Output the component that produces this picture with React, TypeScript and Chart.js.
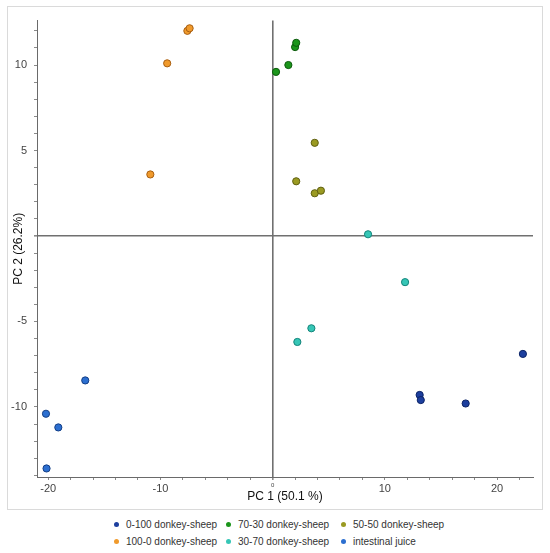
import { useEffect, useRef } from "react";
import { Chart, ScatterController, PointElement, LinearScale } from "chart.js";

Chart.register(ScatterController, PointElement, LinearScale);

// PCA scores (PC 1, PC 2)
const seriesNames = [
  "0-100 donkey-sheep",
  "70-30 donkey-sheep",
  "50-50 donkey-sheep",
  "100-0 donkey-sheep",
  "30-70 donkey-sheep",
  "intestinal juice"
];

const pc1_0_100 = [22.3, 13.1, 13.2, 17.2];
const pc2_0_100 = [-6.9, -9.3, -9.6, -9.8];

const pc1_70_30 = [0.3, 1.4, 2.0, 2.1];
const pc2_70_30 = [9.6, 10.0, 11.05, 11.3];

const pc1_50_50 = [3.75, 2.1, 3.75, 4.3];
const pc2_50_50 = [5.45, 3.2, 2.5, 2.65];

const pc1_100_0 = [-7.6, -7.4, -9.4, -10.9];
const pc2_100_0 = [12.0, 12.15, 10.1, 3.6];

const pc1_30_70 = [8.5, 11.8, 3.45, 2.2];
const pc2_30_70 = [0.1, -2.7, -5.4, -6.2];

const pc1_juice = [-16.7, -20.2, -19.1, -20.15];
const pc2_juice = [-8.45, -10.4, -11.2, -13.6];

const xs = [pc1_0_100, pc1_70_30, pc1_50_50, pc1_100_0, pc1_30_70, pc1_juice];
const ys = [pc2_0_100, pc2_70_30, pc2_50_50, pc2_100_0, pc2_30_70, pc2_juice];

const fills = ["#1d3f9e", "#1b951b", "#9a9a22", "#f09a2c", "#36c6b6", "#2c6fd0"];
const strokes = ["#0c2466", "#0b5a0b", "#5f5f10", "#a85e10", "#14847a", "#143f86"];

const xTitle = "PC 1 (50.1 %)";
const yTitle = "PC 2 (26.2%)";

const FONT = "'Liberation Sans', Arial, sans-serif";

// legend slots: column left edges, row centres
const legendCols = [114, 226, 341];
const legendRows = [524, 541];

export default function App() {
  const canvasRef = useRef<HTMLCanvasElement | null>(null);

  useEffect(() => {
    const canvas = canvasRef.current;
    if (!canvas) return;

    const chart = new Chart(canvas, {
      type: "scatter",
      data: {
        datasets: seriesNames.map((name, i) => ({
          label: name,
          data: xs[i].map((x, j) => ({ x, y: ys[i][j] })),
          backgroundColor: fills[i],
          borderColor: strokes[i],
          borderWidth: 1,
          pointRadius: 3.6
        }))
      },
      options: {
        animation: false,
        responsive: false,
        layout: { padding: { left: 0, right: 9, top: 10, bottom: 0 } },
        plugins: { legend: { display: false }, tooltip: { enabled: false } },
        scales: {
          x: {
            type: "linear",
            min: -21,
            max: 23.2,
            afterFit: (scale) => {
              scale.height = 32;
            },
            border: { display: true, color: "#6a6a6a", width: 1 },
            grid: {
              drawOnChartArea: true,
              color: (ctx) => (ctx.tick && ctx.tick.value === 0 ? "#707070" : "rgba(0,0,0,0)"),
              lineWidth: (ctx) => (ctx.tick && ctx.tick.value === 0 ? 1.6 : 1),
              tickColor: "#8a8a8a",
              tickLength: 3
            },
            ticks: {
              stepSize: 2,
              includeBounds: false,
              autoSkip: false,
              maxRotation: 0,
              padding: 2,
              color: "#444",
              font: (ctx) => ({ family: FONT, size: ctx.tick && ctx.tick.value === 0 ? 6 : 11 }),
              callback: (v) => (Number(v) % 10 === 0 ? String(v) : "")
            },
            title: {
              display: true,
              text: xTitle,
              color: "#111",
              font: { family: FONT, size: 12 },
              padding: { top: 0, bottom: 5 }
            }
          },
          y: {
            type: "linear",
            min: -14.1,
            max: 12.6,
            afterFit: (scale) => {
              scale.width = 29;
            },
            border: { display: true, color: "#6a6a6a", width: 1 },
            grid: {
              drawOnChartArea: true,
              color: (ctx) => (ctx.tick && ctx.tick.value === 0 ? "#707070" : "rgba(0,0,0,0)"),
              lineWidth: (ctx) => (ctx.tick && ctx.tick.value === 0 ? 1.6 : 1),
              tickColor: "#8a8a8a",
              tickLength: 3
            },
            ticks: {
              stepSize: 1,
              includeBounds: false,
              autoSkip: false,
              padding: 7,
              color: "#444",
              font: { family: FONT, size: 11 },
              callback: (v) => (Number(v) % 5 === 0 && Number(v) !== 0 ? String(v) : "")
            },
            title: {
              display: true,
              text: yTitle,
              color: "#111",
              font: { family: FONT, size: 12 },
              padding: { top: 3, bottom: 0 }
            }
          }
        }
      }
    });

    return () => chart.destroy();
  }, []);

  return (
    <div style={{ position: "relative", width: 550, height: 553, background: "#fff", fontFamily: FONT }}>
      <style>{"body{margin:0}"}</style>
      <div
        style={{
          position: "absolute",
          left: 7,
          top: 6,
          width: 536,
          height: 504,
          boxSizing: "border-box",
          border: "1px solid #dadada"
        }}
      >
        <canvas ref={canvasRef} width={534} height={502} style={{ display: "block" }} />
      </div>
      {seriesNames.map((name, i) => {
        const col = i % 3;
        const row = Math.floor(i / 3);
        return (
          <div
            key={name}
            style={{
              position: "absolute",
              left: legendCols[col],
              top: legendRows[row] - 8,
              height: 16,
              display: "flex",
              alignItems: "center",
              fontSize: 10,
              color: "#333",
              whiteSpace: "nowrap"
            }}
          >
            <span
              style={{
                display: "inline-block",
                width: 5,
                height: 5,
                borderRadius: "50%",
                background: fills[i],
                marginRight: 7
              }}
            />
            {name}
          </div>
        );
      })}
    </div>
  );
}
